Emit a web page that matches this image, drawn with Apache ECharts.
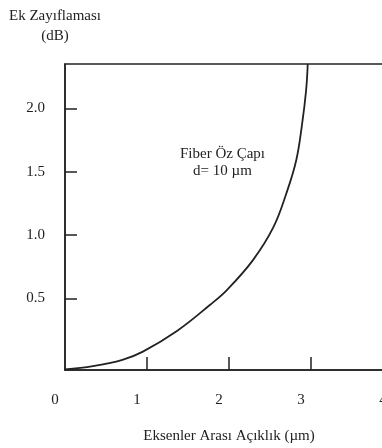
<!DOCTYPE html>
<html>
<head>
<meta charset="utf-8">
<script src="https://cdn.jsdelivr.net/npm/echarts@6/dist/echarts.min.js"></script>
<style>
  html, body { margin: 0; padding: 0; background: #fff; }
  #container { width: 382px; height: 448px; }
</style>
</head>
<body>
<div id="container"></div>
<script>
"use strict";

// okunan değerler (eksenler arası açıklık µm, ek zayıflama dB)
const gapUm = [0, 0.34, 0.7, 0.95, 1.37, 1.77, 1.98, 2.29, 2.54, 2.7, 2.82, 2.89, 2.94, 2.96];
const lossDb = [-0.06, -0.035, 0.015, 0.08, 0.245, 0.45, 0.57, 0.8, 1.06, 1.33, 1.59, 1.87, 2.14, 2.35];
const xTicks = [1, 2, 3];
const xLabels = [0, 1, 2, 3, 4];
const yTicks = [0.5, 1.0, 1.5, 2.0];

const font = 'Liberation Serif';
const ink = '#222';

let myChart = echarts.init(document.getElementById('container'));

let option = {
  animation: false,
  grid: {
    left: 65,
    right: -11, // sağ kenar görüntünün dışında kalıyor
    top: 64,
    bottom: 78,
    outerBoundsMode: 'none',
    show: true,
    borderColor: ink,
    borderWidth: 1.5,
  },
  xAxis: {
    type: 'value',
    min: 0,
    max: 4,
    name: 'Eksenler Arası Açıklık (µm)',
    nameLocation: 'middle',
    nameGap: 59,
    nameTextStyle: { fontFamily: font, fontSize: 15, color: ink },
    axisLine: { show: true, onZero: false, lineStyle: { color: ink, width: 1.5 } },
    axisTick: {
      show: true,
      inside: true,
      length: 13,
      customValues: xTicks,
      lineStyle: { color: ink, width: 1.5 },
    },
    axisLabel: {
      customValues: xLabels,
      margin: 23,
      padding: [0, 20, 0, 0],
      fontFamily: font,
      fontSize: 15,
      color: ink,
    },
    splitLine: { show: false },
  },
  yAxis: {
    type: 'value',
    min: -0.065,
    max: 2.35,
    name: 'Ek Zayıflaması\n(dB)',
    nameLocation: 'end',
    nameGap: 18,
    nameTextStyle: {
      fontFamily: font,
      fontSize: 15,
      color: ink,
      align: 'center',
      lineHeight: 20,
      padding: [0, 20, 0, 0],
    },
    axisLine: { show: true, lineStyle: { color: ink, width: 1.5 } },
    axisTick: {
      show: true,
      inside: true,
      length: 12,
      customValues: yTicks,
      lineStyle: { color: ink, width: 1.5 },
    },
    axisLabel: {
      customValues: yTicks,
      margin: 20,
      fontFamily: font,
      fontSize: 15,
      color: ink,
      formatter: function (v) { return v.toFixed(1); },
    },
    splitLine: { show: false },
  },
  graphic: [
    {
      type: 'text',
      left: 180,
      top: 146,
      style: {
        text: 'Fiber Öz Çapı\nd= 10 µm',
        textAlign: 'center',
        fontFamily: font,
        fontSize: 15,
        lineHeight: 17,
        fill: ink,
      },
    },
  ],
  series: [
    {
      type: 'line',
      data: gapUm.map((x, i) => [x, lossDb[i]]),
      smooth: 0.4,
      showSymbol: false,
      lineStyle: { color: ink, width: 1.8 },
    },
  ],
};

myChart.setOption(option);
</script>
</body>
</html>
